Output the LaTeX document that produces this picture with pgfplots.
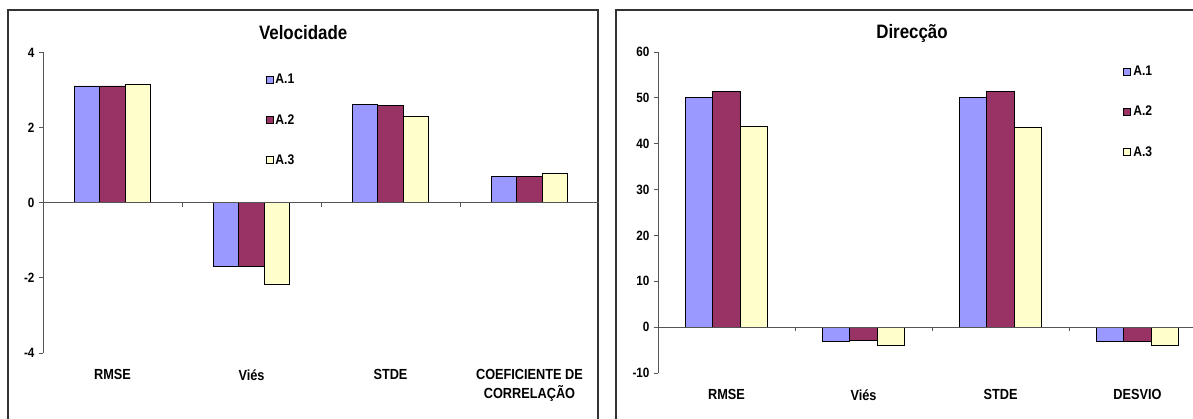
\documentclass[border=0pt]{standalone}
\usepackage{fontspec}
\setmainfont{Liberation Sans}[FakeStretch=0.87]
\usepackage{pgfplots}
\usepackage{pgfplotstable}
\pgfplotsset{compat=1.18}
\definecolor{cA}{HTML}{9999FF}
\definecolor{cB}{HTML}{993366}
\definecolor{cC}{HTML}{FFFFCC}
\definecolor{axgray}{HTML}{555555}

\pgfplotstableread{
x A1 A2 A3
0 3.11 3.11 3.14
1 -1.69 -1.69 -2.17
2 2.62 2.59 2.29
3 0.70 0.70 0.78
}\vel
\pgfplotstableread{
x A1 A2 A3
0 50.1 51.4 43.7
1 -3.0 -2.8 -4.0
2 50.1 51.4 43.5
3 -3.0 -3.0 -4.0
}\dir

\pgfplotsset{
  excelbars/.style={
    scale only axis, anchor=south west, clip=false,
    axis lines=left, axis line style={-, axgray, line width=0.8bp},
    x axis line style={draw=none},
    xtick={0,1,2,3}, xtick style={draw=none},
    xmin=-0.5, xmax=3.5,
    ybar=0pt,
    tick align=outside, major tick length=4bp,
    ytick style={axgray, line width=0.8bp},
    /pgf/number format/assume math mode=true,
    yticklabel style={font=\fontsize{13.5}{15}\selectfont\bfseries, xshift=-1bp},
    xticklabel style={font=\fontsize{14.7}{19}\selectfont\bfseries, align=center, anchor=north, yshift=-9bp},
    title style={font=\fontsize{19.5}{22}\selectfont\bfseries, anchor=center},
    legend image code/.code={\draw[#1,draw=black,line width=0.8bp] (0bp,-3.5bp) rectangle (7bp,3.5bp);},
    legend style={draw=none, fill=none, font=\fontsize{14}{16}\selectfont\bfseries,
      row sep=25bp, inner sep=0pt, anchor=north west, cells={anchor=west}},
    legend cell align=left,
    every axis plot/.append style={draw=black, line width=0.8bp},
  }
}

\begin{document}
\begin{tikzpicture}
\path[use as bounding box] (0,0) rectangle (1193bp,419bp);
% frames
\draw[black!80, line width=1.2bp] (8bp,-5bp) -- (8bp,409bp) -- (598bp,409bp) -- (598bp,-5bp);
\draw[black!80, line width=1.2bp] (616bp,-5bp) -- (616bp,409bp) -- (1200bp,409bp);

\begin{axis}[excelbars,
  at={(43bp,66bp)}, width=556bp, height=300.5bp,
  ymin=-4, ymax=4, ytick={-4,-2,0,2,4},
  bar width=25.5bp,
  xticklabels={RMSE, Viés, STDE, {COEFICIENTE DE\\CORRELAÇÃO}},
  title={Velocidade}, title style={at={(axis description cs:0.468,1.045)}},
  legend style={at={(axis description cs:0.40,0.935)}},
]
\addplot[fill=cA] table[x=x,y=A1]{\vel};
\addplot[fill=cB] table[x=x,y=A2]{\vel};
\addplot[fill=cC] table[x=x,y=A3]{\vel};
\legend{A.1,A.2,A.3}
\draw[axgray, line width=0.8bp] (axis cs:-0.5,0) -- (axis cs:3.5,0);
\draw[axgray, line width=0.8bp] (axis cs:0.5,0) -- ([yshift=-4bp]axis cs:0.5,0);
\draw[axgray, line width=0.8bp] (axis cs:1.5,0) -- ([yshift=-4bp]axis cs:1.5,0);
\draw[axgray, line width=0.8bp] (axis cs:2.5,0) -- ([yshift=-4bp]axis cs:2.5,0);
\end{axis}

\begin{axis}[excelbars,
  at={(658bp,46bp)}, width=548bp, height=321bp,
  ymin=-10, ymax=60, ytick={-10,0,...,60},
  bar width=27.5bp,
  xticklabels={RMSE, Viés, STDE, DESVIO},
  title={Direcção}, title style={at={(axis description cs:0.4635,1.04)}},
  legend style={at={(axis description cs:0.849,0.963)}},
]
\addplot[fill=cA] table[x=x,y=A1]{\dir};
\addplot[fill=cB] table[x=x,y=A2]{\dir};
\addplot[fill=cC] table[x=x,y=A3]{\dir};
\legend{A.1,A.2,A.3}
\draw[axgray, line width=0.8bp] (axis cs:-0.5,0) -- (axis cs:3.5,0);
\draw[axgray, line width=0.8bp] (axis cs:0.5,0) -- ([yshift=-4bp]axis cs:0.5,0);
\draw[axgray, line width=0.8bp] (axis cs:1.5,0) -- ([yshift=-4bp]axis cs:1.5,0);
\draw[axgray, line width=0.8bp] (axis cs:2.5,0) -- ([yshift=-4bp]axis cs:2.5,0);
\end{axis}
\end{tikzpicture}
\end{document}
